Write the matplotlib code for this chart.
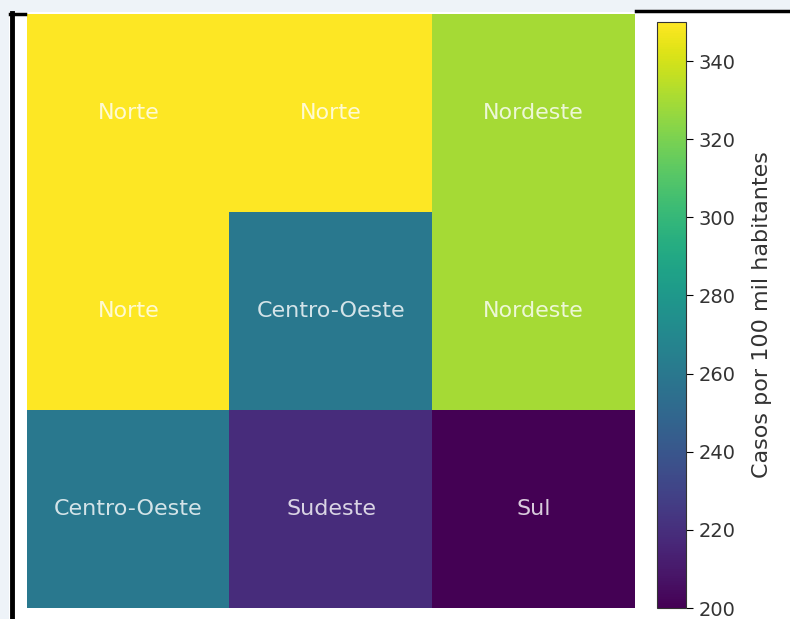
import numpy as np
import matplotlib.pyplot as plt
from matplotlib.lines import Line2D
from matplotlib.patches import Rectangle

# grid of regions (3x3 waffle) and the rate per region
grid_labels = [
    ["Norte", "Norte", "Nordeste"],
    ["Norte", "Centro-Oeste", "Nordeste"],
    ["Centro-Oeste", "Sudeste", "Sul"],
]
regions = ["Norte", "Nordeste", "Centro-Oeste", "Sudeste", "Sul"]
rates = [350, 329.5, 260, 219, 200]
cbar_ticks = [200, 220, 240, 260, 280, 300, 320, 340]

rate_of = dict(zip(regions, rates))
values = np.array([[rate_of[r] for r in row] for row in grid_labels], dtype=float)

fig = plt.figure(figsize=(7.9, 6.19), dpi=100)
fig.patch.set_facecolor("white")

# screenshot-like frame
fig.add_artist(Rectangle((0, 1 - 12 / 619), 1, 12 / 619, transform=fig.transFigure,
                         facecolor="#eef3f8", edgecolor="none", zorder=-1))
fig.add_artist(Rectangle((0, 0), 9 / 790, 1, transform=fig.transFigure,
                         facecolor="#eef3f8", edgecolor="none", zorder=-1))
fig.add_artist(Line2D([11.5 / 790, 11.5 / 790], [0, 1 - 13 / 619], color="black", lw=3.5))
fig.add_artist(Line2D([10 / 790, 25 / 790], [1 - 13.5 / 619, 1 - 13.5 / 619], color="black", lw=2.5))
fig.add_artist(Line2D([636 / 790, 1], [1 - 11 / 619, 1 - 11 / 619], color="black", lw=2.5))

ax = fig.add_axes([27 / 790, 11 / 619, 608 / 790, 594 / 619])
im = ax.imshow(values, cmap="viridis", vmin=200, vmax=350, aspect="auto")
ax.set_xticks([])
ax.set_yticks([])
for s in ax.spines.values():
    s.set_visible(False)

for i, row in enumerate(grid_labels):
    for j, lab in enumerate(row):
        ax.text(j, i, lab, ha="center", va="center", color="white", alpha=0.8, fontsize=16)

cax = fig.add_axes([657 / 790, 11 / 619, 29 / 790, 586 / 619])
cb = fig.colorbar(im, cax=cax)
cb.set_ticks(cbar_ticks)
cb.ax.tick_params(labelsize=14, length=5, pad=4, labelcolor="#333333")
cb.outline.set_edgecolor("#333333")
cb.set_label("Casos por 100 mil habitantes", fontsize=16, color="#333333", labelpad=12)

fig.savefig("out.png", dpi=100)
